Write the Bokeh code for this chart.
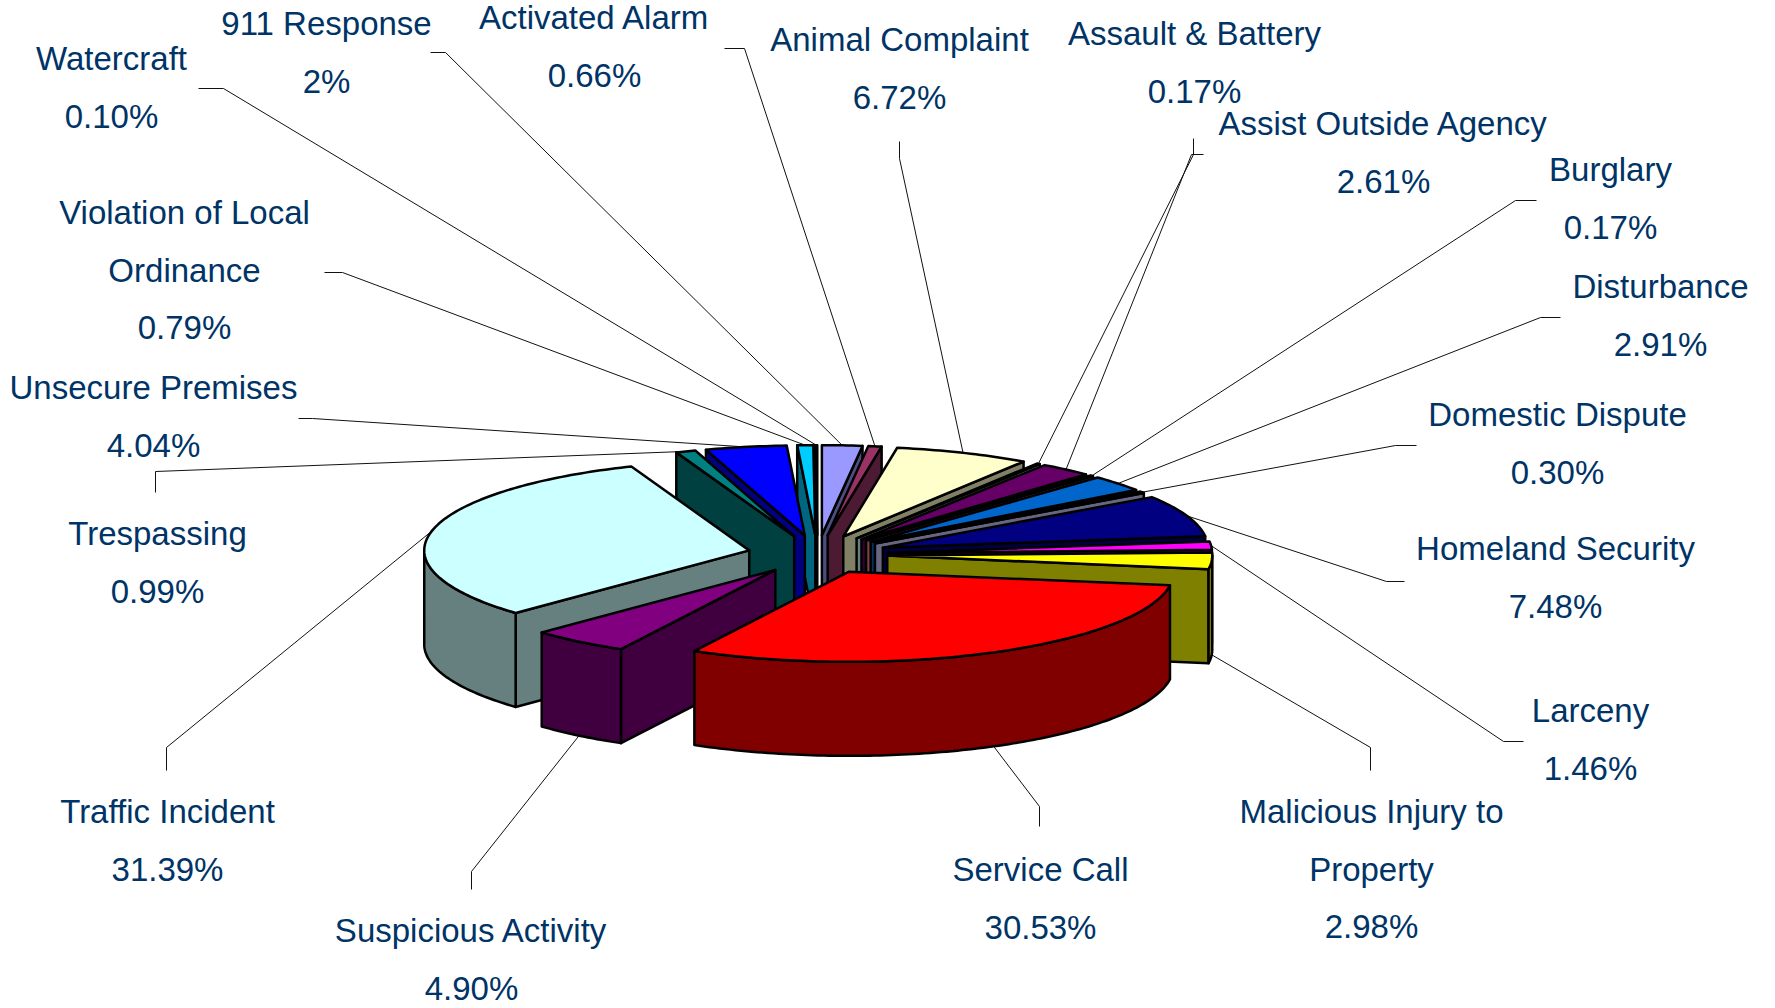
import math
from bokeh.plotting import figure
from bokeh.models import Range1d
from bokeh.core.properties import value
from bokeh.embed import file_html
from bokeh.resources import INLINE

# ---- data ----
categories = ["911 Response", "Activated Alarm", "Animal Complaint", "Assault & Battery",
              "Assist Outside Agency", "Burglary", "Disturbance", "Domestic Dispute",
              "Homeland Security", "Larceny", "Malicious Injury to Property", "Service Call",
              "Suspicious Activity", "Traffic Incident", "Trespassing", "Unsecure Premises",
              "Violation of Local Ordinance", "Watercraft"]
percent_values = [2, 0.66, 6.72, 0.17, 2.61, 0.17, 2.91, 0.30, 7.48, 1.46, 2.98, 30.53,
                  4.90, 31.39, 0.99, 4.04, 0.79, 0.10]
percent_labels = ["2%", "0.66%", "6.72%", "0.17%", "2.61%", "0.17%", "2.91%", "0.30%", "7.48%",
                  "1.46%", "2.98%", "30.53%", "4.90%", "31.39%", "0.99%", "4.04%", "0.79%", "0.10%"]

# ---- style ----
top_colors = ["#9999FF", "#993366", "#FFFFCC", "#CCFFFF", "#660066", "#FF8080", "#0066CC", "#CCCCFF",
              "#000080", "#FF00FF", "#FFFF00", "#FF0000", "#800080", "#CCFFFF", "#008080", "#0000FF",
              "#00CCFF", "#CCFFFF"]
side_colors = ["#4D4D80", "#4D1A33", "#808066", "#668080", "#330033", "#804040", "#003366", "#666680",
               "#000040", "#800080", "#808000", "#800000", "#400040", "#668080", "#004040", "#000080",
               "#006680", "#668080"]
TEXT_COLOR = "#003366"
FONT = "Liberation Sans"
FONT_SIZE = "33px"
LINE_STEP = 57.5

# ---- layout (page pixels) ----
CX, CY = 817, 554      # pie centre
RX, RY = 325, 90       # ellipse radii of the tilted pie
EXPLODE = 0.215        # radial explosion
DEPTH = 94             # height of the extruded wall

label_lines = [["911 Response"], ["Activated Alarm"], ["Animal Complaint"], ["Assault & Battery"],
               ["Assist Outside Agency"], ["Burglary"], ["Disturbance"], ["Domestic Dispute"],
               ["Homeland Security"], ["Larceny"], ["Malicious Injury to", "Property"], ["Service Call"],
               ["Suspicious Activity"], ["Traffic Incident"], ["Trespassing"], ["Unsecure Premises"],
               ["Violation of Local", "Ordinance"], ["Watercraft"]]
label_cx = [326, 594, 899, 1194, 1383, 1610, 1660, 1557, 1555, 1590, 1371, 1040, 471, 167, 157, 153, 184, 111]
label_y0 = [23, 17, 39, 33, 123, 169, 286, 414, 548, 710, 811, 869, 930, 811, 533, 387, 212, 58]
leader_a = [(430, 52), (724, 48), (899, 141), (1193, 138), (1203, 154), (1536, 200), (1560, 317), (1416, 445),
            (1404, 581), (1523, 741), (1370, 770), (1039, 826), (471, 889), (166, 770), (155, 492), (298, 418),
            (324, 272), (198, 88)]
leader_b = [(445, 52), (744, 48), (899, 158), (1193, 154), (1191, 154), (1515, 200), (1540, 317), (1395, 445),
            (1386, 581), (1503, 741), (1370, 747), (1039, 806), (471, 871), (166, 747), (155, 471), (312, 418),
            (342, 272), (223, 88)]

# ---- geometry, derived from the data ----
total = sum(percent_values)
starts, ends = [], []
acc = 0.0
for v in percent_values:
    starts.append(acc / total * 360)
    acc += v
    ends.append(acc / total * 360)


def pt(theta_deg, r, ox, oy, dy=0.0):
    t = math.radians(theta_deg)
    return ox + r * RX * math.sin(t), oy - r * RY * math.cos(t) + dy


def arc(t1, t2, ox, oy, dy=0.0):
    n = max(2, int(abs(t2 - t1) / 1.0) + 1)
    return [pt(t1 + (t2 - t1) * i / n, 1.0, ox, oy, dy) for i in range(n + 1)]


poly_x, poly_y, poly_fill = [], [], []


def add_poly(points, color):
    poly_x.append([q[0] for q in points])
    poly_y.append([q[1] for q in points])
    poly_fill.append(color)


order = sorted(range(len(categories)),
               key=lambda i: -math.cos(math.radians((starts[i] + ends[i]) / 2)))
for i in order:
    t1, t2 = starts[i], ends[i]
    mid = (t1 + t2) / 2
    ox, oy = pt(mid, EXPLODE, CX, CY)
    apex = (ox, oy)
    apex_low = (ox, oy + DEPTH)
    if math.sin(math.radians(t1)) < 0:
        add_poly([apex, pt(t1, 1, ox, oy), pt(t1, 1, ox, oy, DEPTH), apex_low], side_colors[i])
    if math.sin(math.radians(t2)) > 0:
        add_poly([apex, pt(t2, 1, ox, oy), pt(t2, 1, ox, oy, DEPTH), apex_low], side_colors[i])
    a1, a2 = max(t1, 90), min(t2, 270)
    if a2 > a1:
        add_poly(arc(a1, a2, ox, oy) + arc(a2, a1, ox, oy, DEPTH), side_colors[i])
    add_poly([apex] + arc(t1, t2, ox, oy), top_colors[i])

# ---- leaders and labels ----
lead_x, lead_y = [], []
text_x, text_y, text_s = [], [], []
for i in range(len(categories)):
    mid = (starts[i] + ends[i]) / 2
    ox, oy = pt(mid, EXPLODE, CX, CY)
    ex, ey = pt(mid, 1, ox, oy, DEPTH if math.cos(math.radians(mid)) < -0.02 else 0)
    lead_x.append([leader_a[i][0], leader_b[i][0], ex])
    lead_y.append([leader_a[i][1], leader_b[i][1], ey])
    rows = label_lines[i] + [percent_labels[i]]
    for j, s in enumerate(rows):
        text_x.append(label_cx[i])
        text_y.append(label_y0[i] + j * LINE_STEP)
        text_s.append(s)

p = figure(width=1775, height=1008, output_backend="svg", toolbar_location=None,
           x_range=Range1d(0, 1775), y_range=Range1d(1008, 0),
           x_axis_location=None, y_axis_location=None, min_border=0)
p.grid.visible = False
p.outline_line_color = None
p.background_fill_color = "#FFFFFF"
p.border_fill_color = "#FFFFFF"

p.multi_line(lead_x, lead_y, line_color="#111111", line_width=1)
p.patches(poly_x, poly_y, fill_color=poly_fill, line_color="#000000", line_width=2.5, line_join="round")
p.text(text_x, text_y, text=text_s, text_font=value(FONT), text_font_size=FONT_SIZE,
       text_color=TEXT_COLOR, text_align="center", text_baseline="middle")

open("out.html", "w").write(file_html(p, INLINE))
